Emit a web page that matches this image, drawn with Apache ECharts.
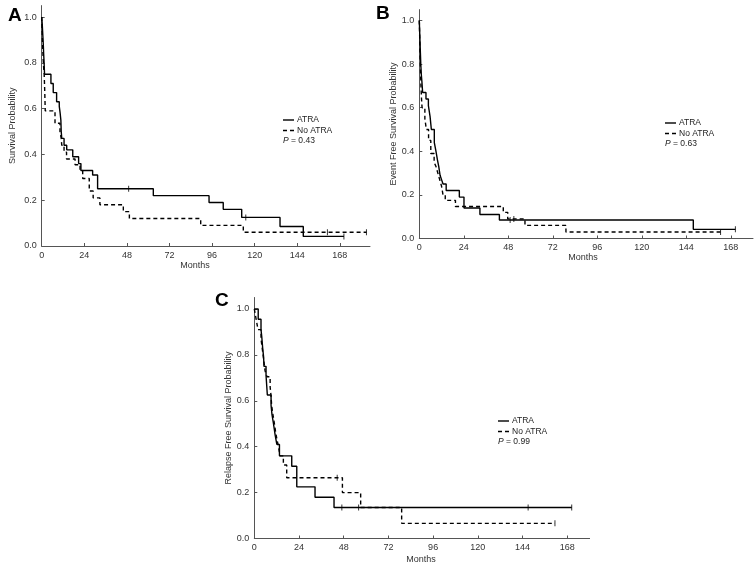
<!DOCTYPE html>
<html><head><meta charset="utf-8">
<script src="https://cdn.jsdelivr.net/npm/echarts@6/dist/echarts.min.js"></script>
<style>html,body{margin:0;padding:0;background:#fff}#c{width:756px;height:569px}</style>
</head><body><div id="c"></div>
<script>
const xTicks = [0, 24, 48, 72, 96, 120, 144, 168];
const yTicks = [0, 0.2, 0.4, 0.6, 0.8, 1.0];
const seriesNames = ['ATRA', 'No ATRA'];
const panelLabels = ['A', 'B', 'C'];
const yTitles = ['Survival Probability', 'Event Free Survival Probability', 'Relapse Free Survival Probability'];
const xTitle = 'Months';
const pValues = ['0.43', '0.63', '0.99'];

// Panel A: overall survival  [month, survival]
const osATRA = [[0,1],[0.3,0.97],[0.5,0.94],[0.7,0.91],[0.9,0.88],[1.1,0.84],[1.3,0.81],[1.6,0.75],[5.2,0.71],[6.5,0.67],[8.4,0.63],[9.9,0.61],[10.4,0.58],[10.8,0.55],[11.0,0.5],[11.3,0.47],[12.6,0.44],[14.1,0.42],[17.5,0.39],[20.8,0.36],[22.1,0.33],[28.7,0.31],[31.5,0.25],[62.9,0.22],[94.3,0.19],[102.3,0.16],[112.7,0.125],[134.3,0.085],[147.4,0.042],[170.3,0.042]];
const osNoATRA = [[0,1],[0.2,0.95],[0.4,0.9],[0.6,0.86],[0.8,0.82],[1.1,0.78],[1.4,0.75],[1.7,0.68],[2.0,0.59],[7.5,0.536],[10.3,0.5],[11.0,0.47],[11.3,0.44],[12.6,0.41],[14.0,0.38],[18.8,0.355],[21.6,0.33],[23.1,0.295],[26.8,0.24],[29.0,0.21],[32.8,0.18],[46.0,0.15],[49.4,0.12],[89.6,0.09],[113.6,0.06],[183,0.06]];
const osATRACensored = [49, 115, 170.3];
const osNoATRACensored = [161, 183];

// Panel B: event free survival
const efsATRA = [[0,1],[0.2,0.95],[0.4,0.9],[0.6,0.85],[0.8,0.8],[1.1,0.75],[1.4,0.72],[1.8,0.67],[3.6,0.64],[4.9,0.61],[5.8,0.56],[6.5,0.5],[8.1,0.44],[9.0,0.4],[9.8,0.36],[10.5,0.33],[11.2,0.29],[12.0,0.27],[12.8,0.25],[14.5,0.22],[21.6,0.19],[24.1,0.14],[32.7,0.11],[43.2,0.085],[147.8,0.042],[170.5,0.042]];
const efsNoATRA = [[0,1],[0.2,0.93],[0.4,0.85],[0.6,0.78],[0.9,0.7],[1.2,0.64],[1.5,0.6],[3.0,0.55],[3.8,0.5],[5.0,0.45],[6.2,0.39],[8.0,0.35],[9.0,0.33],[10.0,0.3],[11.0,0.27],[12.0,0.24],[12.8,0.2],[14.0,0.175],[19.5,0.147],[45.3,0.12],[47.7,0.09],[57,0.06],[79.1,0.03],[162.5,0.03]];
const efsATRACensored = [49, 170.5];
const efsNoATRACensored = [51, 162.5];

// Panel C: relapse free survival
const rfsATRA = [[0,1],[2.1,0.955],[3.6,0.91],[4.0,0.88],[4.5,0.83],[5.0,0.79],[5.2,0.75],[6.3,0.71],[7.0,0.625],[9.0,0.58],[9.5,0.54],[10.3,0.5],[11.2,0.45],[12.1,0.41],[13.5,0.36],[20.1,0.315],[22.8,0.225],[32.6,0.18],[42.8,0.135],[170.4,0.135]];
const rfsNoATRA = [[0,1],[1.0,0.955],[2.0,0.91],[3.6,0.87],[4.4,0.82],[5.0,0.78],[5.8,0.73],[6.8,0.705],[8.5,0.66],[9.0,0.62],[9.3,0.58],[10.0,0.54],[10.8,0.5],[11.5,0.46],[12.2,0.43],[13.0,0.4],[13.8,0.36],[15.6,0.32],[17.4,0.265],[47.3,0.2],[57.1,0.135],[79.1,0.066],[161.4,0.066]];
const rfsATRACensored = [47, 56, 147, 170.4];
const rfsNoATRACensored = [44.5, 161.4];

const xMax = [185, 180, 180];
const yMax = 1.05;

const FONT = '"Liberation Sans", Arial, sans-serif';
const panels = [
  {a: osATRA, n: osNoATRA, ac: osATRACensored, nc: osNoATRACensored},
  {a: efsATRA, n: efsNoATRA, ac: efsATRACensored, nc: efsNoATRACensored},
  {a: rfsATRA, n: rfsNoATRA, ac: rfsATRACensored, nc: rfsNoATRACensored}
];

const layout = [
  {grid: {left: 41.7, top: 5.6, width: 328.3, height: 240.4}, nameGap: 25, leg: [283, 120], letter: [8, 6], months: [195, 266]},
  {grid: {left: 419.3, top: 9.6, width: 333.7, height: 228.9}, nameGap: 20, leg: [665, 123], letter: [376, 4], months: [583, 258]},
  {grid: {left: 254.3, top: 297.5, width: 335.3, height: 241}, nameGap: 20, leg: [498, 421], letter: [215, 291], months: [421, 560]}
];

function survAt(curve, t) {
  let s = curve[0][1];
  for (const [x, y] of curve) { if (x <= t) s = y; }
  return s;
}

const grids = [], xAxes = [], yAxes = [], series = [], graphics = [];
const axisColor = '#555';
const labelColor = '#333';
const LW = 1.4;
const DASH = [4, 3];

panels.forEach((pd, i) => {
  const L = layout[i];
  grids.push(L.grid);
  xAxes.push({
    type: 'value', gridIndex: i, min: 0, max: xMax[i], interval: 24,
    axisLine: {lineStyle: {color: axisColor, width: 1}},
    axisTick: {inside: true, length: 3, customValues: xTicks, lineStyle: {color: axisColor}},
    axisLabel: {customValues: xTicks, margin: 5, fontSize: 9, color: labelColor, fontFamily: FONT},
    splitLine: {show: false}
  });
  yAxes.push({
    type: 'value', gridIndex: i, min: 0, max: yMax, interval: 0.2,
    name: yTitles[i], nameLocation: 'middle', nameGap: L.nameGap,
    nameTextStyle: {fontSize: 9, color: labelColor, fontFamily: FONT},
    axisLine: {show: true, lineStyle: {color: axisColor, width: 1}},
    axisTick: {show: true, inside: true, length: 3, customValues: yTicks, lineStyle: {color: axisColor}},
    axisLabel: {customValues: yTicks, margin: 5, fontSize: 9, color: labelColor, fontFamily: FONT,
      formatter: v => v.toFixed(1)},
    splitLine: {show: false}
  });
  [[pd.a, pd.ac, false], [pd.n, pd.nc, true]].forEach(([curve, cens, dashed], k) => {
    series.push({
      type: 'line', name: seriesNames[k], xAxisIndex: i, yAxisIndex: i,
      data: curve, step: 'end', showSymbol: false, symbol: 'none', silent: true,
      lineStyle: {color: '#000', width: LW, type: dashed ? DASH : 'solid'},
      itemStyle: {color: '#000'}
    });
    series.push({
      type: 'scatter', name: seriesNames[k] + ' censored', xAxisIndex: i, yAxisIndex: i,
      symbol: 'rect', symbolSize: [1, 6], silent: true,
      itemStyle: {color: '#000'},
      data: cens.map(t => [t, survAt(curve, t)])
    });
    // legend entry (manual)
    const lx = L.leg[0], ly = L.leg[1] + k * 10.5;
    graphics.push({
      type: 'line', silent: true,
      shape: {x1: lx, y1: ly, x2: lx + 11, y2: ly},
      style: {stroke: '#000', lineWidth: LW, lineDash: dashed ? DASH : null}
    });
    graphics.push({
      type: 'text', silent: true, x: lx + 14, y: ly,
      style: {text: seriesNames[k], fontSize: 8.5, fill: '#222', fontFamily: FONT, verticalAlign: 'middle'}
    });
  });
  graphics.push({
    type: 'text', silent: true, x: L.leg[0], y: L.leg[1] + 21,
    style: {text: '{i|P} = ' + pValues[i], fontSize: 8.5, fill: '#222', fontFamily: FONT, verticalAlign: 'middle',
      rich: {i: {fontStyle: 'italic', fontSize: 8.5, fontFamily: FONT, fill: '#222'}}}
  });
  graphics.push({
    type: 'text', silent: true, left: L.letter[0], top: L.letter[1],
    style: {text: panelLabels[i], fontSize: 19, fontWeight: 'bold', fill: '#000', fontFamily: FONT}
  });
  graphics.push({
    type: 'text', silent: true, x: L.months[0], y: L.months[1],
    style: {text: xTitle, fontSize: 9, fill: labelColor, fontFamily: FONT, align: 'center', verticalAlign: 'middle'}
  });
});

const chart = echarts.init(document.getElementById('c'), null, {renderer: 'canvas'});
chart.setOption({
  animation: false,
  backgroundColor: '#fff',
  grid: grids, xAxis: xAxes, yAxis: yAxes, series: series, graphic: graphics
});
</script></body></html>
